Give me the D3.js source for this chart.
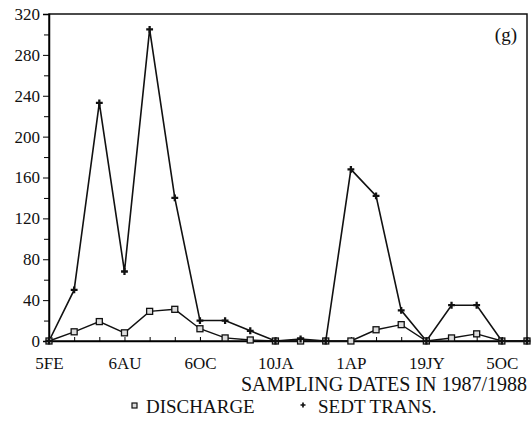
<!DOCTYPE html>
<html>
<head>
<meta charset="utf-8">
<script src="https://cdn.jsdelivr.net/npm/d3@7"></script>
<style>
  body { margin: 0; background: #fff; }
  svg text { font-family: "Liberation Serif", "DejaVu Serif", serif; fill: #111; }
</style>
</head>
<body>
<div id="chart"></div>
<script>
// sampling dates, one every ~3 weeks, label shown every third
var dateLabels = ["5FE", "", "", "6AU", "", "", "6OC", "", "", "10JA", "", "", "1AP", "", "", "19JY", "", "", "5OC", ""];
var discharge = [0, 9, 19, 8, 29, 31, 12, 3, 1, 0, 0, 0, 0, 11, 16, 0, 3, 7, 0, 0];
var sedTrans = [0, 50, 233, 68, 305, 140, 20, 20, 10, 0, 2, 0, 168, 142, 30, 0, 35, 35, 0, 0];
var yTicks = [0, 40, 80, 120, 160, 200, 240, 280, 320];
var yMinor = [20, 60, 100, 140, 180, 220, 260, 300];

var W = 532, H = 429;
var serif = "'Liberation Serif', 'DejaVu Serif', serif";
var margin = {top: 14, right: 5, bottom: 88, left: 49};
var width = W - margin.left - margin.right,
    height = H - margin.top - margin.bottom;

var svg = d3.select("#chart").append("svg")
    .attr("width", W)
    .attr("height", H);
var g = svg.append("g")
    .attr("transform", "translate(" + margin.left + "," + margin.top + ")");

var x = d3.scaleLinear()
    .domain([0, dateLabels.length - 1])
    .range([0, width]);
var y = d3.scaleLinear()
    .domain([0, 320])
    .range([height, 0]);

// frame
g.append("rect")
    .attr("width", width).attr("height", height)
    .attr("fill", "none").attr("stroke", "#111").attr("stroke-width", 1.5);

// y axis with labelled and minor ticks
var yAxis = g.append("g")
    .attr("font-family", serif)
    .call(d3.axisLeft(y).tickValues(yTicks).tickSize(6).tickPadding(3));
yAxis.attr("font-family", serif);
yAxis.select(".domain").attr("stroke-width", 1.5);
yAxis.selectAll("text").style("font-size", "17px").style("font-family", serif);
g.append("g")
    .call(d3.axisLeft(y).tickValues(yMinor).tickSize(5).tickFormat(""))
    .select(".domain").remove();

// x axis: small inward ticks at every date
var xAxis = g.append("g")
    .attr("transform", "translate(0," + height + ")")
    .call(d3.axisBottom(x)
      .tickValues(d3.range(dateLabels.length))
      .tickSize(-4)
      .tickPadding(16)
      .tickFormat(function(i) { return dateLabels[i]; }));
xAxis.attr("font-family", serif);
xAxis.select(".domain").attr("stroke-width", 1.5);
xAxis.selectAll("text").style("font-size", "17px").style("font-family", serif);

var line = d3.line()
    .x(function(d, i) { return x(i); })
    .y(function(d) { return y(d); });

g.append("path").datum(discharge)
    .attr("d", line).attr("fill", "none")
    .attr("stroke", "#111").attr("stroke-width", 1.4);
g.append("path").datum(sedTrans)
    .attr("d", line).attr("fill", "none")
    .attr("stroke", "#111").attr("stroke-width", 1.6);

// discharge markers: open squares
g.selectAll(".sq").data(discharge).enter().append("rect")
    .attr("class", "sq")
    .attr("x", function(d, i) { return x(i) - 3; })
    .attr("y", function(d) { return y(d) - 3; })
    .attr("width", 6).attr("height", 6)
    .attr("fill", "#ddd").attr("stroke", "#111").attr("stroke-width", 1.3);

// sediment transport markers: small crosses
var cross = d3.symbol().type(d3.symbolCross).size(26);
g.selectAll(".cr").data(sedTrans).enter().append("path")
    .attr("class", "cr")
    .attr("d", cross)
    .attr("transform", function(d, i) { return "translate(" + x(i) + "," + y(d) + ")"; })
    .attr("fill", "#111");

// panel label
g.append("text")
    .attr("x", width - 10).attr("y", 27)
    .attr("text-anchor", "end")
    .style("font-size", "19px")
    .text("(g)");

// axis title
svg.append("text")
    .attr("x", margin.left + width).attr("y", 391)
    .attr("text-anchor", "end")
    .style("font-size", "20px")
    .text("SAMPLING DATES IN 1987/1988");

// legend
var leg = svg.append("g").attr("transform", "translate(0,413)");
leg.append("rect")
    .attr("x", 132).attr("y", -10).attr("width", 5).attr("height", 5)
    .attr("fill", "#ddd").attr("stroke", "#111").attr("stroke-width", 1.2);
leg.append("text").attr("x", 146).attr("y", 0)
    .style("font-size", "19px").text("DISCHARGE");
leg.append("path")
    .attr("d", d3.symbol().type(d3.symbolCross).size(14))
    .attr("transform", "translate(303,-8)")
    .attr("fill", "#111");
leg.append("text").attr("x", 318).attr("y", 0)
    .style("font-size", "19px").text("SEDT TRANS.");
</script>
</body>
</html>
